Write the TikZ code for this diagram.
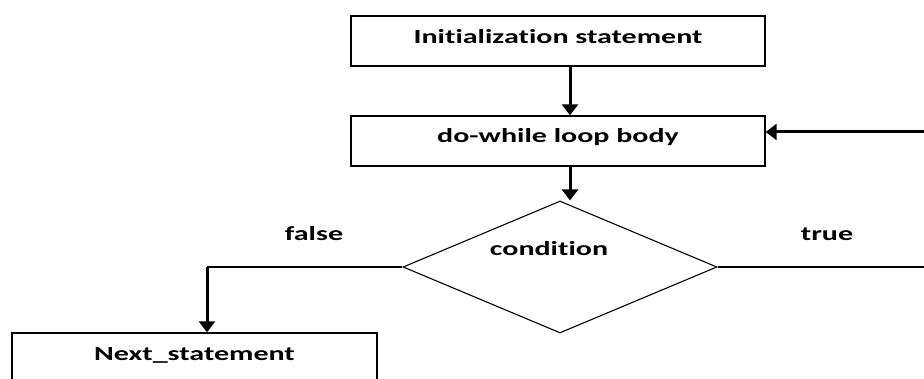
\documentclass[tikz,border=0pt]{standalone}
\usepackage{fontspec}
\setmainfont{Carlito}[FakeStretch=1.5,RawFeature=-liga]
\usetikzlibrary{shapes.geometric,arrows.meta}
\begin{document}
\begin{tikzpicture}[x=1pt,y=-1pt,
  every node/.style={font=\fontsize{20}{23}\selectfont\bfseries},
  stepbox/.style={draw=black,line width=1.4pt,rectangle,inner sep=0pt},
  decision/.style={draw=black,line width=1.1pt,diamond,inner sep=0pt},
  thinline/.style={draw=black,line width=1.4pt},
  flow/.style={draw=black,line width=3pt,-{Triangle[length=11pt,width=16pt]}},
  tag/.style={inner sep=0pt}]
  \clip (0,0) rectangle (924,379);
  \useasboundingbox (0,0) rectangle (924,379);

  % boxes of the flow chart
  \node[stepbox,minimum width=414pt,minimum height=50pt] (init) at (558,41) {};
  \node[tag] at (558,37) {Initialization statement};
  \node[stepbox,minimum width=414pt,minimum height=50pt] (body) at (558,141) {};
  \node[tag] at (558,137) {do-while loop body};
  \node[decision,minimum width=314pt,minimum height=132pt] (cond) at (560,267) {};
  \node[tag] at (549,249) {condition};
  \node[stepbox,minimum width=365pt,minimum height=50pt] (next) at (194.5,358) {};
  \node[tag] at (194.5,355) {Next\_statement};

  % branch labels
  \node[tag] at (314,234) {false};
  \node[tag] at (827,234) {true};

  % helper points of the connectors
  \coordinate (a) at (570,0);
  \coordinate (fcorner) at (207,267);
  \coordinate (tcorner) at (930,267);
  \coordinate (tback) at (930,132);

  % straight flow
  \draw[flow] (init.south -| a) -- (body.north -| a);
  \draw[flow] (body.south -| a) -- (cond.north -| a);

  % false branch
  \draw[thinline] (cond.west) -- (fcorner);
  \draw[flow] (fcorner) -- (fcorner |- next.north);

  % true branch, back to the loop body
  \draw[thinline] (cond.east) -- (tcorner) -- (tback);
  \draw[flow] (tback) -- (tback -| body.east);
\end{tikzpicture}
\end{document}
